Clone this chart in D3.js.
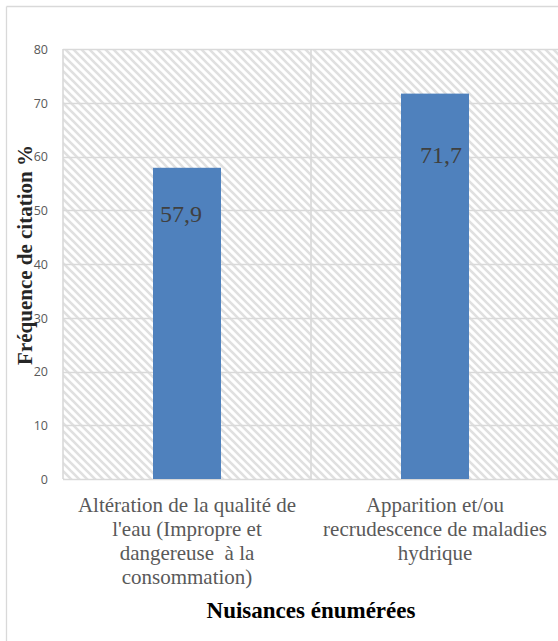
<!DOCTYPE html>
<html>
<head>
<meta charset="utf-8">
<script src="https://cdn.jsdelivr.net/npm/d3@7"></script>
<style>
  html, body { margin: 0; padding: 0; background: #fff; }
  svg { display: block; }
</style>
</head>
<body>
<svg id="chart" width="558" height="641"></svg>
<script>
// Nuisances citées et fréquence de citation (%)
const categories = [
  ["Altération de la qualité de", "l'eau (Impropre et", "dangereuse  à la", "consommation)"],
  ["Apparition et/ou", "recrudescence de maladies", "hydrique"]
];
const values = [57.9, 71.7];
const valueLabels = ["57,9", "71,7"];
const yTicks = [0, 10, 20, 30, 40, 50, 60, 70, 80];
const yTitle = "Fréquence de citation %";
const xTitle = "Nuisances énumérées";

const svg = d3.select("#chart");
const W = 558, H = 641;
const plot = { left: 63, top: 49, right: 559, bottom: 479 };
const serif = "'Liberation Serif', 'Times New Roman', Times, serif";

// Diagonal hatch used for the plot background
const defs = svg.append("defs");
const pat = defs.append("pattern")
  .attr("id", "hatch")
  .attr("patternUnits", "userSpaceOnUse")
  .attr("width", 8).attr("height", 8);
pat.append("rect").attr("width", 8).attr("height", 8).attr("fill", "#ffffff");
pat.append("path")
  .attr("d", "M-2,-2 L10,10 M-2,6 L2,10 M6,-2 L10,2")
  .attr("stroke", "#e0e0e0").attr("stroke-width", 2.6);

// Outer chart frame (only top and left edges fall inside the view)
svg.append("line").attr("x1", 6.5).attr("x2", W + 5).attr("y1", 6.5).attr("y2", 6.5)
  .attr("stroke", "#d9d9d9").attr("stroke-width", 1.3);
svg.append("line").attr("x1", 6.5).attr("x2", 6.5).attr("y1", 6.5).attr("y2", H + 5)
  .attr("stroke", "#d9d9d9").attr("stroke-width", 1.3);

const x = d3.scaleBand()
  .domain(d3.range(categories.length))
  .range([plot.left, plot.right])
  .paddingInner(0).paddingOuter(0);
const y = d3.scaleLinear().domain([0, 80]).range([plot.bottom, plot.top]);

// Plot background
svg.append("rect")
  .attr("x", plot.left).attr("y", plot.top)
  .attr("width", plot.right - plot.left).attr("height", plot.bottom - plot.top)
  .attr("fill", "url(#hatch)");

// Horizontal gridlines
svg.append("g").selectAll("line").data(yTicks).join("line")
  .attr("x1", plot.left).attr("x2", plot.right)
  .attr("y1", d => Math.round(y(d)) + 0.5).attr("y2", d => Math.round(y(d)) + 0.5)
  .attr("stroke", "#d9d9d9").attr("stroke-width", 1.6);

// Vertical lines: plot edge and category separators
const vLines = [plot.left].concat(d3.range(1, categories.length).map(i => x(i)));
svg.append("g").selectAll("line").data(vLines).join("line")
  .attr("x1", d => d).attr("x2", d => d)
  .attr("y1", plot.top).attr("y2", plot.bottom)
  .attr("stroke", "#d9d9d9").attr("stroke-width", 1.6);

// Y axis tick labels
const yAxis = d3.axisLeft(y).tickValues(yTicks).tickSize(0).tickPadding(0);
const gy = svg.append("g").attr("transform", `translate(${plot.left - 15},0)`).call(yAxis);
gy.select(".domain").remove();
gy.selectAll("text")
  .attr("font-family", "'Open Sans', 'Liberation Sans', sans-serif")
  .attr("font-size", 12.5).attr("fill", "#595959").attr("dy", "0.35em");

// Bars
const barW = 68;
svg.append("g").selectAll("rect").data(values).join("rect")
  .attr("x", (d, i) => x(i) + x.bandwidth() / 2 - barW / 2)
  .attr("y", d => y(d))
  .attr("width", barW)
  .attr("height", d => y(0) - y(d))
  .attr("fill", "#4f81bd");

// Value labels inside the bars
const labelDrop = [54, 69];
const labelShift = [-6, 6];
svg.append("g").selectAll("text").data(values).join("text")
  .attr("x", (d, i) => x(i) + x.bandwidth() / 2 + labelShift[i])
  .attr("y", (d, i) => y(d) + labelDrop[i])
  .attr("text-anchor", "middle")
  .style("font-family", serif)
  .attr("font-size", 24).attr("fill", "#404040")
  .text((d, i) => valueLabels[i]);

// Category labels
const catG = svg.append("g");
categories.forEach((lines, i) => {
  const t = catG.append("text")
    .attr("text-anchor", "middle")
    .style("font-family", serif)
    .attr("font-size", 21).attr("fill", "#595959");
  lines.forEach((ln, j) => {
    t.append("tspan")
      .attr("x", x(i) + x.bandwidth() / 2)
      .attr("y", 512 + j * 24)
      .attr("xml:space", "preserve")
      .text(ln);
  });
});

// Axis titles
svg.append("text")
  .attr("x", 311).attr("y", 618)
  .attr("text-anchor", "middle")
  .style("font-family", serif)
  .attr("font-weight", "bold").attr("font-size", 23).attr("fill", "#000")
  .text(xTitle);

svg.append("text")
  .attr("transform", `translate(32,255) rotate(-90)`)
  .attr("text-anchor", "middle")
  .style("font-family", serif)
  .attr("font-weight", "bold").attr("font-size", 21).attr("fill", "#262626")
  .text(yTitle);
</script>
</body>
</html>
